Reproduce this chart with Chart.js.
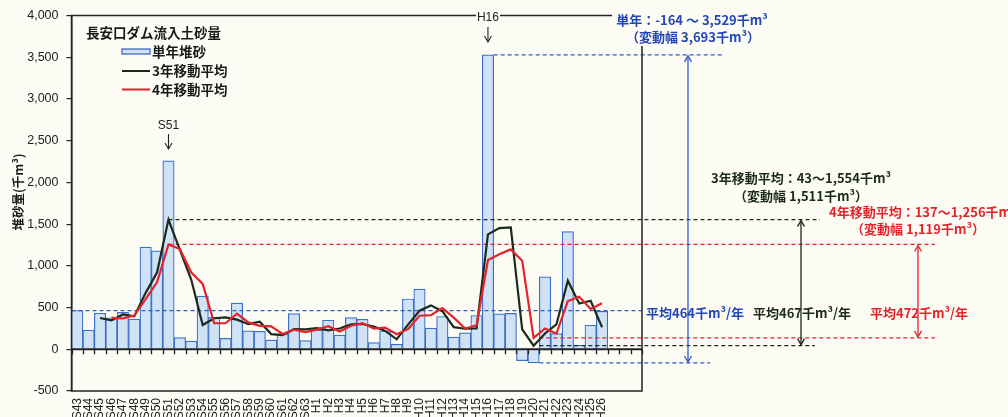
<!DOCTYPE html>
<html>
<head>
<meta charset="utf-8">
<script src="https://cdn.jsdelivr.net/npm/chart.js@4.4.1/dist/chart.umd.min.js"></script>
<style>
  html, body { margin: 0; padding: 0; background: #fcfcf5; }
  #wrap { width: 1008px; height: 417px; position: relative; }
</style>
</head>
<body>
<div id="wrap"><canvas id="c" width="1008" height="417"></canvas></div>
<script>
// Fiscal years (Showa 43 - Heisei 26), plus three empty slots at the end of the axis
const categories = [
  'S43','S44','S45','S46','S47','S48','S49','S50','S51','S52','S53','S54','S55','S56','S57','S58','S59','S60','S61','S62','S63',
  'H1','H2','H3','H4','H5','H6','H7','H8','H9','H10','H11','H12','H13','H14','H15','H16','H17','H18','H19','H20','H21','H22','H23','H24','H25','H26',
  '','',''
];

// Annual sediment inflow (千m³)
const annualSediment = [
  465, 228, 432, 378, 442, 362, 1225, 1180, 2257, 140, 98, 636, 383, 130, 553, 221, 215, 111, 185, 427, 103,
  229, 348, 170, 379, 359, 79, 221, 60, 603, 722, 254, 393, 147, 198, 405, 3529, 425, 430, -137, -164, 869, 188, 1409, 50, 288, 455,
  null, null, null
];

// 3-year moving average (千m³)
const movingAvg3 = [
  null, null, 375, 346, 417, 394, 676, 922, 1554, 1192, 832, 291, 372, 383, 355, 301, 330, 182, 170, 241, 238,
  253, 227, 249, 299, 303, 272, 220, 120, 295, 462, 526, 456, 265, 246, 250, 1377, 1453, 1461, 239, 43, 189, 298, 822, 549, 582, 264,
  null, null, null
];

// 4-year moving average (千m³)
const movingAvg4 = [
  null, null, null, 376, 370, 404, 602, 802, 1256, 1201, 919, 783, 314, 312, 426, 322, 280, 275, 183, 235, 207,
  236, 277, 213, 282, 314, 247, 260, 180, 241, 402, 410, 493, 379, 248, 286, 1070, 1139, 1197, 1062, 137, 250, 189, 576, 629, 484, 551,
  null, null, null
];

// Y axis tick values (千m³)
const yTickValues = [-500, 0, 500, 1000, 1500, 2000, 2500, 3000, 3500, 4000];

// Range summaries: [min, max, average]
const rangeAnnual = [-164, 3529, 464];
const rangeAvg3 = [43, 1554, 467];
const rangeAvg4 = [137, 1256, 472];

// Where the extremes occur (category index)
const peakIndexAnnual = 36;   // H16
const peakIndexAvg = 8;       // S51
const lowIndex = 40;          // H20

const BG = '#fcfcf5';
const BLUE = '#2f5cc4';
const BLUE_TXT = '#2347b8';
const DARK = '#1c2a1c';
const RED = '#e5232b';
const JP = '"Noto Sans CJK JP", "Noto Sans", sans-serif';

function line(ctx, x1, y1, x2, y2) {
  ctx.beginPath(); ctx.moveTo(x1, y1); ctx.lineTo(x2, y2); ctx.stroke();
}
function text(ctx, s, x, y, color, size, align, weight) {
  ctx.font = (weight || 'bold') + ' ' + size + 'px ' + JP;
  ctx.fillStyle = color;
  ctx.textAlign = align || 'center';
  ctx.textBaseline = 'middle';
  ctx.fillText(s, x, y);
}
function arrowHead(ctx, x, y, dir) {
  // dir = -1 points up, 1 points down
  ctx.beginPath();
  ctx.moveTo(x - 3.5, y - dir * 6);
  ctx.lineTo(x, y);
  ctx.lineTo(x + 3.5, y - dir * 6);
  ctx.stroke();
}
function doubleArrow(ctx, x, yTop, yBot, color) {
  ctx.save();
  ctx.strokeStyle = color; ctx.lineWidth = 1.3; ctx.setLineDash([]);
  line(ctx, x, yTop, x, yBot);
  arrowHead(ctx, x, yTop, -1);
  arrowHead(ctx, x, yBot, 1);
  ctx.restore();
}
function downArrow(ctx, x, y1, y2) {
  ctx.save();
  ctx.strokeStyle = '#222'; ctx.lineWidth = 1.1;
  line(ctx, x, y1, x, y2);
  arrowHead(ctx, x, y2, 1);
  ctx.restore();
}

const decor = {
  id: 'decor',
  beforeDraw(chart) {
    const { ctx, width, height } = chart;
    ctx.save();
    ctx.fillStyle = BG;
    ctx.fillRect(0, 0, width, height);
    ctx.restore();
  },
  afterDatasetDraw(chart, args) {
    if (args.index !== 0) return;
    const { ctx, chartArea: a, scales: { x, y } } = chart;
    const w = x.getPixelForValue(1) - x.getPixelForValue(0);
    const edge = i => x.getPixelForValue(i) - w / 2;
    const y0 = y.getPixelForValue(0);
    ctx.save();

    // dashed range / average lines
    ctx.setLineDash([4, 3]);
    ctx.lineWidth = 1.3;
    ctx.strokeStyle = BLUE;
    line(ctx, a.left, y.getPixelForValue(rangeAnnual[2]), a.right, y.getPixelForValue(rangeAnnual[2]));
    line(ctx, edge(peakIndexAnnual + 1), y.getPixelForValue(rangeAnnual[1]), 722, y.getPixelForValue(rangeAnnual[1]));
    line(ctx, edge(lowIndex + 1), y.getPixelForValue(rangeAnnual[0]), 710, y.getPixelForValue(rangeAnnual[0]));

    ctx.strokeStyle = DARK;
    line(ctx, x.getPixelForValue(peakIndexAvg), y.getPixelForValue(rangeAvg3[1]), 820, y.getPixelForValue(rangeAvg3[1]));
    line(ctx, edge(lowIndex + 1), y.getPixelForValue(rangeAvg3[0]), 815, y.getPixelForValue(rangeAvg3[0]));

    ctx.strokeStyle = RED;
    line(ctx, x.getPixelForValue(peakIndexAvg), y.getPixelForValue(rangeAvg4[1]), 935, y.getPixelForValue(rangeAvg4[1]));
    line(ctx, edge(lowIndex + 1), y.getPixelForValue(rangeAvg4[0]), 935, y.getPixelForValue(rangeAvg4[0]));
    ctx.setLineDash([]);

    // zero line with category tick marks
    ctx.strokeStyle = '#222';
    ctx.lineWidth = 2;
    line(ctx, a.left, y0, a.right, y0);
    ctx.lineWidth = 1.3;
    for (let i = 0; i <= categories.length; i++) {
      const px = Math.round(edge(i)) + 0.5;
      line(ctx, px, y0, px, y0 + 5);
    }
    ctx.restore();
  },
  afterDraw(chart) {
    const { ctx, chartArea: a, scales: { x, y } } = chart;
    ctx.save();

    // plot frame
    ctx.strokeStyle = '#222';
    ctx.lineWidth = 1.5;
    ctx.strokeRect(a.left, a.top, a.right - a.left, a.bottom - a.top);

    // range arrows
    doubleArrow(ctx, 688, y.getPixelForValue(rangeAnnual[1]) + 1, y.getPixelForValue(rangeAnnual[0]) - 1, BLUE);
    doubleArrow(ctx, 801, y.getPixelForValue(rangeAvg3[1]) + 1, y.getPixelForValue(rangeAvg3[0]) - 1, DARK);
    doubleArrow(ctx, 918, y.getPixelForValue(rangeAvg4[1]) + 1, y.getPixelForValue(rangeAvg4[0]) - 1, RED);

    // peak markers
    const xH16 = x.getPixelForValue(peakIndexAnnual);
    ctx.fillStyle = BG;
    ctx.fillRect(xH16 - 12, 8, 24, 16);
    ctx.font = '12px "Liberation Sans", sans-serif';
    ctx.fillStyle = '#222'; ctx.textAlign = 'center'; ctx.textBaseline = 'middle';
    ctx.fillText('H16', xH16, 18);
    downArrow(ctx, xH16, 27, 42);
    const xS51 = x.getPixelForValue(peakIndexAvg);
    ctx.fillText('S51', xS51, 126);
    downArrow(ctx, xS51, 134, 149);

    // annual range annotation sits on a clear patch over the frame corner
    ctx.fillStyle = BG;
    ctx.fillRect(612, 6, 160, 40);
    text(ctx, '単年：' + rangeAnnual[0] + ' ～ 3,529千m³', 692, 20, BLUE_TXT, 13);
    text(ctx, '（変動幅 3,693千m³）', 693, 37, BLUE_TXT, 13);
    text(ctx, '3年移動平均：43～1,554千m³', 801, 178, DARK, 13);
    text(ctx, '（変動幅 1,511千m³）', 801, 196, DARK, 13);
    text(ctx, '4年移動平均：137～1,256千m³', 829, 212, RED, 13, 'left');
    text(ctx, '（変動幅 1,119千m³）', 918, 229, RED, 13);
    text(ctx, '平均' + rangeAnnual[2] + '千m³/年', 695, 313, BLUE_TXT, 13);
    text(ctx, '平均' + rangeAvg3[2] + '千m³/年', 802, 313, DARK, 13);
    text(ctx, '平均' + rangeAvg4[2] + '千m³/年', 919, 313, RED, 13);

    // legend
    text(ctx, '長安口ダム流入土砂量', 86, 33, '#1a1a1a', 13.5, 'left', 'bold');
    ctx.fillStyle = '#cfe2f6';
    ctx.fillRect(122, 49, 28, 5);
    ctx.strokeStyle = BLUE; ctx.lineWidth = 1.2;
    ctx.strokeRect(122, 49, 28, 5);
    text(ctx, '単年堆砂', 152, 52, '#1a1a1a', 13.5, 'left');
    ctx.strokeStyle = DARK; ctx.lineWidth = 2;
    line(ctx, 122, 71, 150, 71);
    text(ctx, '3年移動平均', 152, 71, '#1a1a1a', 13.5, 'left');
    ctx.strokeStyle = RED;
    line(ctx, 122, 89.5, 150, 89.5);
    text(ctx, '4年移動平均', 152, 90, '#1a1a1a', 13.5, 'left');

    // y axis title
    ctx.translate(18, 192);
    ctx.rotate(-Math.PI / 2);
    text(ctx, '堆砂量(千m³)', 0, 0, '#1a1a1a', 12.5);
    ctx.restore();
  }
};

new Chart(document.getElementById('c'), {
  type: 'bar',
  data: {
    labels: categories,
    datasets: [
      {
        label: '単年堆砂',
        data: annualSediment,
        backgroundColor: '#cfe2f6',
        borderColor: '#3b70c8',
        borderWidth: 1.2,
        barPercentage: 1,
        categoryPercentage: 1,
        order: 3
      },
      {
        type: 'line',
        label: '3年移動平均',
        data: movingAvg3,
        borderColor: DARK,
        borderWidth: 2.2,
        pointRadius: 0,
        tension: 0,
        fill: false,
        order: 2
      },
      {
        type: 'line',
        label: '4年移動平均',
        data: movingAvg4,
        borderColor: RED,
        borderWidth: 2.2,
        pointRadius: 0,
        tension: 0,
        fill: false,
        order: 1
      }
    ]
  },
  options: {
    responsive: false,
    animation: false,
    devicePixelRatio: 1,
    layout: { padding: { left: 0, right: 366, top: 14, bottom: 0 } },
    plugins: { legend: { display: false }, tooltip: { enabled: false } },
    scales: {
      x: {
        grid: { display: false, drawTicks: false },
        border: { display: false },
        ticks: {
          autoSkip: false,
          minRotation: 90,
          maxRotation: 90,
          padding: 7,
          color: '#222',
          font: { family: '"Liberation Sans", sans-serif', size: 12 }
        },
        afterFit: s => { s.height = 26; }
      },
      y: {
        min: -500,
        max: 4000,
        afterBuildTicks: s => { s.ticks = yTickValues.map(v => ({ value: v })); },
        grid: { drawOnChartArea: false, tickLength: 5, color: '#222', lineWidth: 1.2 },
        border: { color: '#222', width: 1.5 },
        ticks: {
          padding: 8,
          color: '#222',
          font: { family: '"Liberation Sans", sans-serif', size: 12.5 },
          callback: v => v.toLocaleString('en-US')
        },
        afterFit: s => { s.width = 71.5; }
      }
    }
  },
  plugins: [decor]
});
</script>
</body>
</html>
